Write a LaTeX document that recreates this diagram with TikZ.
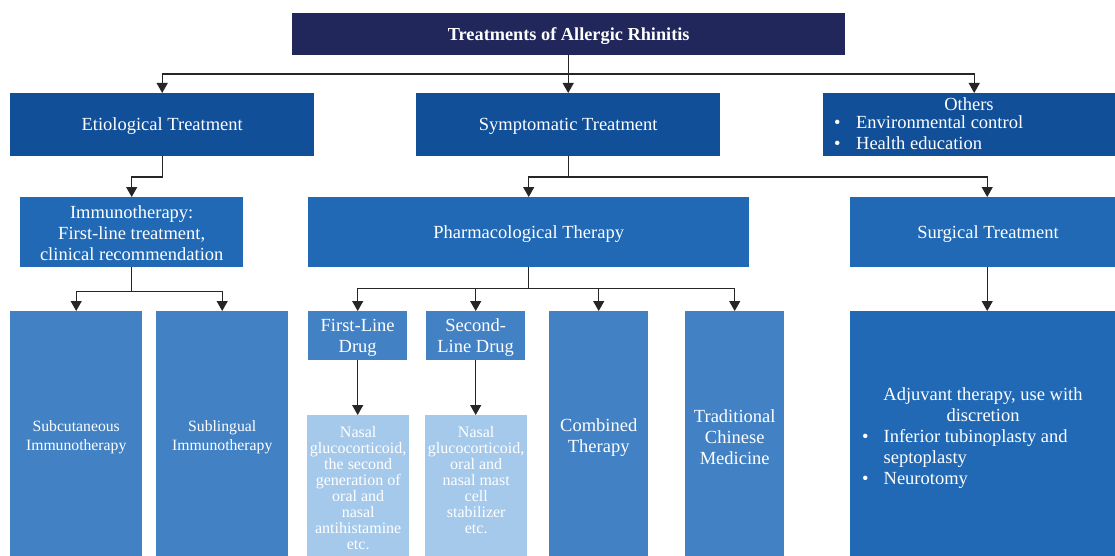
\documentclass[tikz,border=0pt]{standalone}
\usepackage{fontspec}
\setmainfont{Liberation Serif}
\usetikzlibrary{arrows.meta,calc}
\definecolor{navy}{HTML}{21275B}
\definecolor{lvA}{HTML}{114F99}
\definecolor{lvB}{HTML}{2169B4}
\definecolor{lvC}{HTML}{4181C4}
\definecolor{lvD}{HTML}{A4C9EB}
\definecolor{linec}{HTML}{262626}
\begin{document}
\begin{tikzpicture}[x=1pt,y=-1pt,
  box/.style={anchor=north west, inner sep=0pt, text=white, align=center,
    font=\fontsize{18.5}{21}\selectfont},
  txt/.style={inner sep=0pt, text=white, align=center,
    font=\fontsize{18.5}{21}\selectfont},
  smalltxt/.style={font=\fontsize{15.7}{18.5}\selectfont},
  drugtxt/.style={font=\fontsize{16}{16}\selectfont},
  conn/.style={draw=linec, line width=1.3pt},
  arr/.style={conn, -{Triangle[width=11pt,length=10pt]}},
]
\useasboundingbox (0,0) rectangle (1115,556);

% ---- top ----
\node[box, fill=navy, minimum width=553, minimum height=42] (root) at (292,13) {};
\node[txt, font=\bfseries\fontsize{18.3}{21}\selectfont] (rootT) at ($(root.center)+(0,1.5)$)
  {Treatments of Allergic Rhinitis};

% ---- first level ----
\node[box, fill=lvA, minimum width=304, minimum height=63] (eti) at (10,93) {};
\node[txt] (etiT) at ($(eti.center)+(0,1.5)$) {Etiological Treatment};
\node[box, fill=lvA, minimum width=304, minimum height=63] (sym) at (416,93) {};
\node[txt] (symT) at ($(sym.center)+(0,1.5)$) {Symptomatic Treatment};
\node[box, fill=lvA, minimum width=292, minimum height=63] (oth) at (823,93) {};
\node[txt] (othH) at (969,104.5) {Others};
\node[txt, anchor=west] (othL) at (834,135)
  {\begin{tabular}{@{}l@{\hspace{15.5pt}}l@{}}\textbullet & Environmental control\\
   \textbullet & Health education\end{tabular}};

% ---- second level ----
\node[box, fill=lvB, minimum width=223, minimum height=70] (imm) at (20,197) {};
\node[txt] (immT) at ($(imm.center)+(0,1)$)
  {Immunotherapy:\\First-line treatment,\\clinical recommendation};
\node[box, fill=lvB, minimum width=441, minimum height=70] (pha) at (308,197) {};
\node[txt] (phaT) at ($(pha.center)+(0,2)$) {Pharmacological Therapy};
\node[box, fill=lvB, minimum width=265, minimum height=70] (sur) at (850,197) {};
\node[txt] (surT) at (988,234) {Surgical Treatment};

% ---- third level ----
\node[box, fill=lvC, minimum width=132, minimum height=245] (sc) at (10,311) {};
\node[txt, smalltxt] (scT) at ($(sc.center)+(0,3.5)$) {Subcutaneous\\Immunotherapy};
\node[box, fill=lvC, minimum width=132, minimum height=245] (sl) at (156,311) {};
\node[txt, smalltxt] (slT) at ($(sl.center)+(0,3.5)$) {Sublingual\\Immunotherapy};
\node[box, fill=lvC, minimum width=99, minimum height=49] (fl) at (308,311) {};
\node[txt] (flT) at ($(fl.center)+(0,2)$) {First-Line\\Drug};
\node[box, fill=lvC, minimum width=99, minimum height=49] (sld) at (426,311) {};
\node[txt] (sldT) at ($(sld.center)+(0,2)$) {Second-\\Line Drug};
\node[box, fill=lvC, minimum width=99, minimum height=245] (ct) at (549,311) {};
\node[txt] (ctT) at ($(ct.center)+(0,4)$) {Combined\\Therapy};
\node[box, fill=lvC, minimum width=99, minimum height=245] (tcm) at (685,311) {};
\node[txt] (tcmT) at ($(tcm.center)+(0,3)$) {Traditional\\Chinese\\Medicine};
\node[box, fill=lvB, minimum width=265, minimum height=245] (sb) at (850,311) {};
\node[txt] (sbH) at (983,405) {Adjuvant therapy, use with\\discretion};
\node[txt, anchor=west] (sbL) at (862,459)
  {\begin{tabular}{@{}l@{\hspace{15pt}}l@{}}\textbullet & Inferior tubinoplasty and\\
   & septoplasty\\ \textbullet & Neurotomy\end{tabular}};

% ---- drug details ----
\node[box, fill=lvD, minimum width=102, minimum height=141] (n1) at (307,415) {};
\node[txt, drugtxt, anchor=north] (n1t) at ($(n1.north)+(0,11)$)
  {Nasal\\glucocorticoid,\\the second\\generation of\\oral and\\nasal\\antihistamine\\etc.};
\node[box, fill=lvD, minimum width=102, minimum height=141] (n2) at (425,415) {};
\node[txt, drugtxt, anchor=north] (n2t) at ($(n2.north)+(0,11)$)
  {Nasal\\glucocorticoid,\\oral and\\nasal mast\\cell\\stabilizer\\etc.};

% ---- connectors ----
\coordinate (j0) at (sym.north |- 0,74);
\draw[arr] (sym.north |- root.south) -- (sym.north);
\draw[arr] (j0) -| (eti.north);
\draw[arr] (j0) -| ([xshift=5pt]oth.north);

\coordinate (j1) at (sym.south |- 0,177);
\draw[conn] (sym.south) -- (j1);
\draw[arr] (j1) -| (pha.north);
\draw[arr] (j1) -| ([xshift=4.5pt]sur.north);

\draw[arr] (eti.south) -- (eti.south |- j1) -| (imm.north);

\coordinate (j2) at ($(imm.south)+(0,24)$);
\draw[conn] (imm.south) -- (j2);
\draw[arr] (j2) -| (sc.north);
\draw[arr] (j2) -| (sl.north);

\coordinate (j3) at ($(pha.south)+(0,21)$);
\draw[conn] (pha.south) -- (j3);
\draw[arr] (j3) -| (fl.north);
\draw[arr] (j3) -| (sld.north);
\draw[arr] (j3) -| (ct.north);
\draw[arr] (j3) -| (tcm.north);

\draw[arr] (fl.south) -- (fl.south |- n1.north);
\draw[arr] (sld.south) -- (sld.south |- n2.north);
\draw[arr] ([xshift=4.5pt]sur.south) -- ([xshift=4.5pt]sb.north);
\end{tikzpicture}
\end{document}
